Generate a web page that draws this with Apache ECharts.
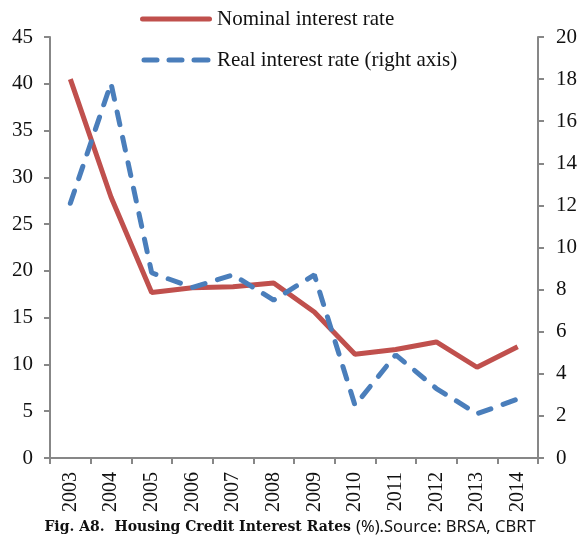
<!DOCTYPE html>
<html><head><meta charset="utf-8">
<script src="https://cdn.jsdelivr.net/npm/echarts@6/dist/echarts.min.js"></script>
<style>html,body{margin:0;padding:0;background:#fff}#c{width:580px;height:535px}</style>
</head><body><div id="c"></div>
<script>
const years = ['2003','2004','2005','2006','2007','2008','2009','2010','2011','2012','2013','2014'];
const nominal = [40.5, 27.9, 17.7, 18.2, 18.3, 18.7, 15.6, 11.1, 11.6, 12.4, 9.7, 11.9];
const real = [12.1, 17.8, 8.8, 8.1, 8.7, 7.5, 8.7, 2.5, 4.9, 3.3, 2.1, 2.8];
const leftTicks = {min: 0, max: 45, interval: 5};
const rightTicks = {min: 0, max: 20, interval: 2};

const chart = echarts.init(document.getElementById('c'), null, {renderer: 'canvas'});
const serif = 'Liberation Serif';
const axisLineStyle = {color: '#878787', width: 2};
const RED = '#C0504D', BLUE = '#4A7EBB';
chart.setOption({
  animation: false,
  backgroundColor: '#fff',
  grid: {left: 50, right: 42, top: 37, bottom: 77, containLabel: false},
  legend: {
    orient: 'vertical', left: 140, top: 8, padding: 0, itemWidth: 72, itemHeight: 5, itemGap: 19,
    textStyle: {fontFamily: serif, fontSize: 21, lineHeight: 22, color: '#111'},
    data: [
      {name: 'Nominal interest rate', icon: 'path://M2.5,0h67a2.5,2.5 0 0 1 0,5h-67a2.5,2.5 0 0 1 0,-5z', itemStyle: {color: RED}},
      {name: 'Real interest rate (right axis)', icon: 'path://M2.5,0h13a2.5,2.5 0 0 1 0,5h-13a2.5,2.5 0 0 1 0,-5z M27.5,0h13a2.5,2.5 0 0 1 0,5h-13a2.5,2.5 0 0 1 0,-5z M52.5,0h14a2.5,2.5 0 0 1 0,5h-14a2.5,2.5 0 0 1 0,-5z', itemStyle: {color: BLUE}}
    ]
  },
  title: {
    text: '{b|Fig. A8.  Housing Credit Interest Rates} {n|(%).Source: BRSA, CBRT}',
    left: 'center', bottom: -6,
    textStyle: {rich: {
      b: {fontFamily: 'DejaVu Serif', fontWeight: 'bold', fontSize: 14, color: '#111'},
      n: {fontFamily: 'Noto Sans', fontWeight: 'normal', fontSize: 16.5, color: '#111'}
    }}
  },
  xAxis: {
    type: 'category', data: years, boundaryGap: true,
    axisLine: {lineStyle: axisLineStyle},
    axisTick: {show: true, length: 6, lineStyle: axisLineStyle},
    axisLabel: {rotate: 90, fontFamily: serif, fontSize: 20, color: '#111', margin: 14}
  },
  yAxis: [
    {type: 'value', min: leftTicks.min, max: leftTicks.max, interval: leftTicks.interval,
     splitLine: {show: false}, axisLine: {show: true, lineStyle: axisLineStyle},
     axisTick: {show: true, length: 6, lineStyle: axisLineStyle},
     axisLabel: {fontFamily: serif, fontSize: 21, color: '#111', margin: 17}},
    {type: 'value', min: rightTicks.min, max: rightTicks.max, interval: rightTicks.interval,
     splitLine: {show: false}, axisLine: {show: true, lineStyle: axisLineStyle},
     axisTick: {show: true, length: 6, lineStyle: axisLineStyle},
     axisLabel: {fontFamily: serif, fontSize: 21, color: '#111', margin: 18}}
  ],
  series: [
    {name: 'Nominal interest rate', type: 'line', data: nominal, yAxisIndex: 0,
     symbol: 'none', color: RED, lineStyle: {width: 5, color: RED}},
    {name: 'Real interest rate (right axis)', type: 'line', data: real, yAxisIndex: 1,
     symbol: 'none', color: BLUE, lineStyle: {width: 5, color: BLUE, type: [13, 13], cap: 'round'}}
  ]
});
</script></body></html>
